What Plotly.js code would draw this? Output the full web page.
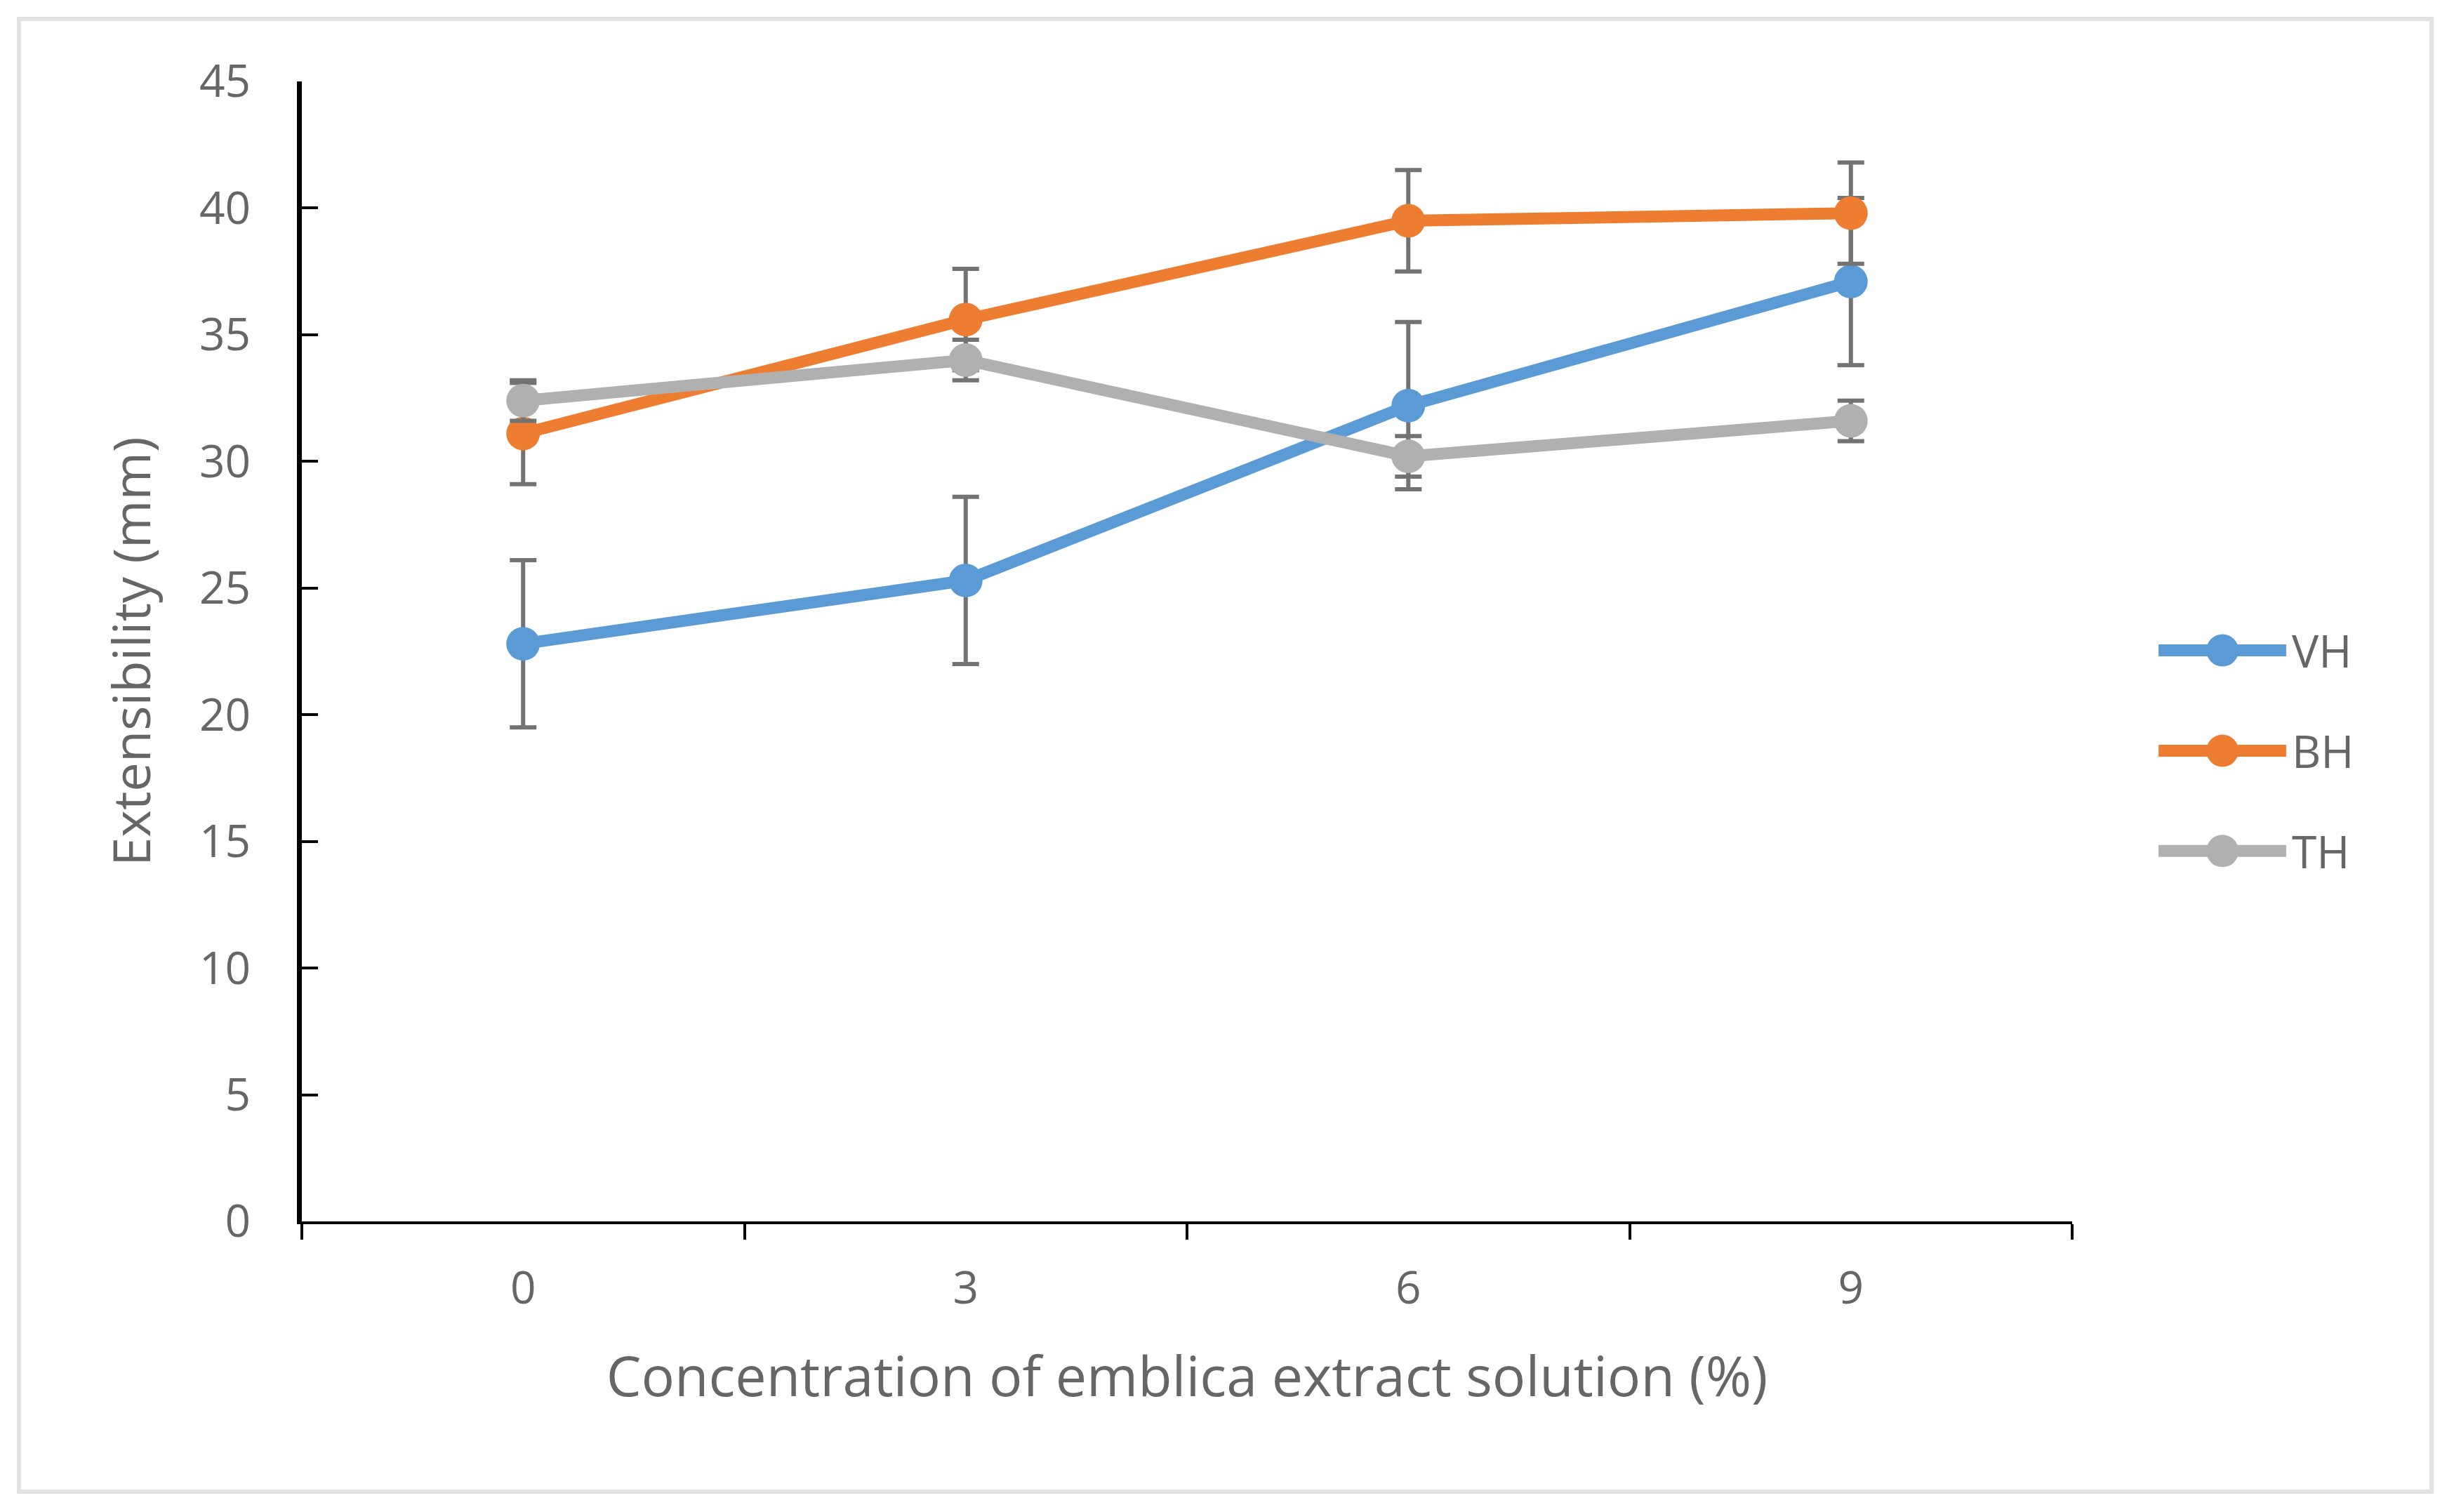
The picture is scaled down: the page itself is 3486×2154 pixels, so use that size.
<!DOCTYPE html>
<html>
<head>
<meta charset="utf-8">
<script src="https://cdn.plot.ly/plotly-3.0.1.min.js"></script>
<style>
  html, body { margin: 0; padding: 0; background: #ffffff; }
  #chart { width: 3486px; height: 2154px; position: relative; }
  #frame { position: absolute; left: 24px; top: 24px; width: 3443px; height: 2104px;
           box-sizing: border-box; border: 6px solid #E2E2E2; pointer-events: none; }
</style>
</head>
<body>
<div id="chart"></div>
<div id="frame"></div>
<script>
// ---- data ----
var categories = ['0', '3', '6', '9'];
var seriesNames = ['VH', 'BH', 'TH'];
var vhValues = [22.8, 25.3, 32.2, 37.1];
var bhValues = [31.1, 35.6, 39.5, 39.8];
var thValues = [32.4, 34.0, 30.2, 31.6];
var vhErrors = [3.3, 3.3, 3.3, 3.3];
var bhErrors = [2.0, 2.0, 2.0, 2.0];
var thErrors = [0.8, 0.8, 0.8, 0.8];
var yTickValues = [0, 5, 10, 15, 20, 25, 30, 35, 40, 45];

var seriesValues = [vhValues, bhValues, thValues];
var seriesErrors = [vhErrors, bhErrors, thErrors];
var seriesColors = ['#5B9BD5', '#ED7D31', '#B0B0B0'];

var FONT = 'Open Sans, Noto Sans, sans-serif';
var TEXT_COLOR = '#666666';

var traces = seriesNames.map(function (name, i) {
  return {
    type: 'scatter',
    mode: 'lines+markers',
    name: name,
    x: categories,
    y: seriesValues[i],
    line: { color: seriesColors[i], width: 17 },
    marker: { color: seriesColors[i], size: 48, symbol: 'circle' },
    error_y: {
      type: 'data', array: seriesErrors[i], visible: true,
      color: '#737373', thickness: 6, width: 19
    },
    showlegend: false,
    cliponaxis: false
  };
});

// custom legend (built from the series arrays)
var PLOT_W = 3486 - 430 - 534, PLOT_H = 2154 - 116 - 414;
var legendX0 = 1.0488, legendX1 = 1.1209, legendMid = 1.0849, legendText = 1.1235;
var legendY = [0.5009, 0.4129, 0.3249];
var shapes = [];
var annotations = [];
seriesNames.forEach(function (name, i) {
  shapes.push({
    type: 'line', xref: 'paper', yref: 'paper',
    x0: legendX0, x1: legendX1, y0: legendY[i], y1: legendY[i],
    line: { color: seriesColors[i], width: 17 }
  });
  var rx = 23 / PLOT_W, ry = 23 / PLOT_H;
  shapes.push({
    type: 'circle', xref: 'paper', yref: 'paper',
    x0: legendMid - rx, x1: legendMid + rx,
    y0: legendY[i] - ry, y1: legendY[i] + ry,
    fillcolor: seriesColors[i], line: { width: 0 }
  });
  annotations.push({
    xref: 'paper', yref: 'paper', x: legendText, y: legendY[i],
    xanchor: 'left', yanchor: 'middle', showarrow: false,
    text: name, font: { family: FONT, size: 64, color: TEXT_COLOR }
  });
});

var layout = {
  width: 3486,
  height: 2154,
  margin: { l: 430, r: 534, t: 116, b: 414, pad: 0 },
  paper_bgcolor: '#ffffff',
  plot_bgcolor: '#ffffff',
  showlegend: false,
  font: { family: FONT, color: TEXT_COLOR },
  xaxis: {
    type: 'category',
    categoryorder: 'array',
    categoryarray: categories,
    range: [-0.5, 3.5],
    tickson: 'boundaries',
    ticks: 'outside',
    ticklen: 22,
    tickwidth: 4,
    tickcolor: '#000000',
    showline: true,
    linecolor: '#000000',
    linewidth: 4,
    showgrid: false,
    zeroline: false,
    tickfont: { family: FONT, size: 64, color: TEXT_COLOR },
    ticklabelstandoff: 36,
    title: {
      text: 'Concentration of emblica extract solution (%)',
      font: { family: FONT, size: 79, color: TEXT_COLOR },
      standoff: 60
    },
    automargin: false
  },
  yaxis: {
    range: [0, 45],
    tickmode: 'array',
    tickvals: yTickValues,
    ticktext: yTickValues.map(String),
    ticks: 'inside',
    ticklen: 23,
    tickwidth: 4,
    tickcolor: '#000000',
    showline: true,
    linecolor: '#000000',
    linewidth: 7,
    showgrid: false,
    zeroline: false,
    tickfont: { family: FONT, size: 64, color: TEXT_COLOR },
    ticklabelstandoff: 53,
    title: {
      text: 'Extensibility (mm)',
      font: { family: FONT, size: 74, color: TEXT_COLOR },
      standoff: 48
    },
    automargin: false
  },
  shapes: shapes,
  annotations: annotations
};

Plotly.newPlot('chart', traces, layout, { displayModeBar: false, staticPlot: true });
</script>
</body>
</html>
